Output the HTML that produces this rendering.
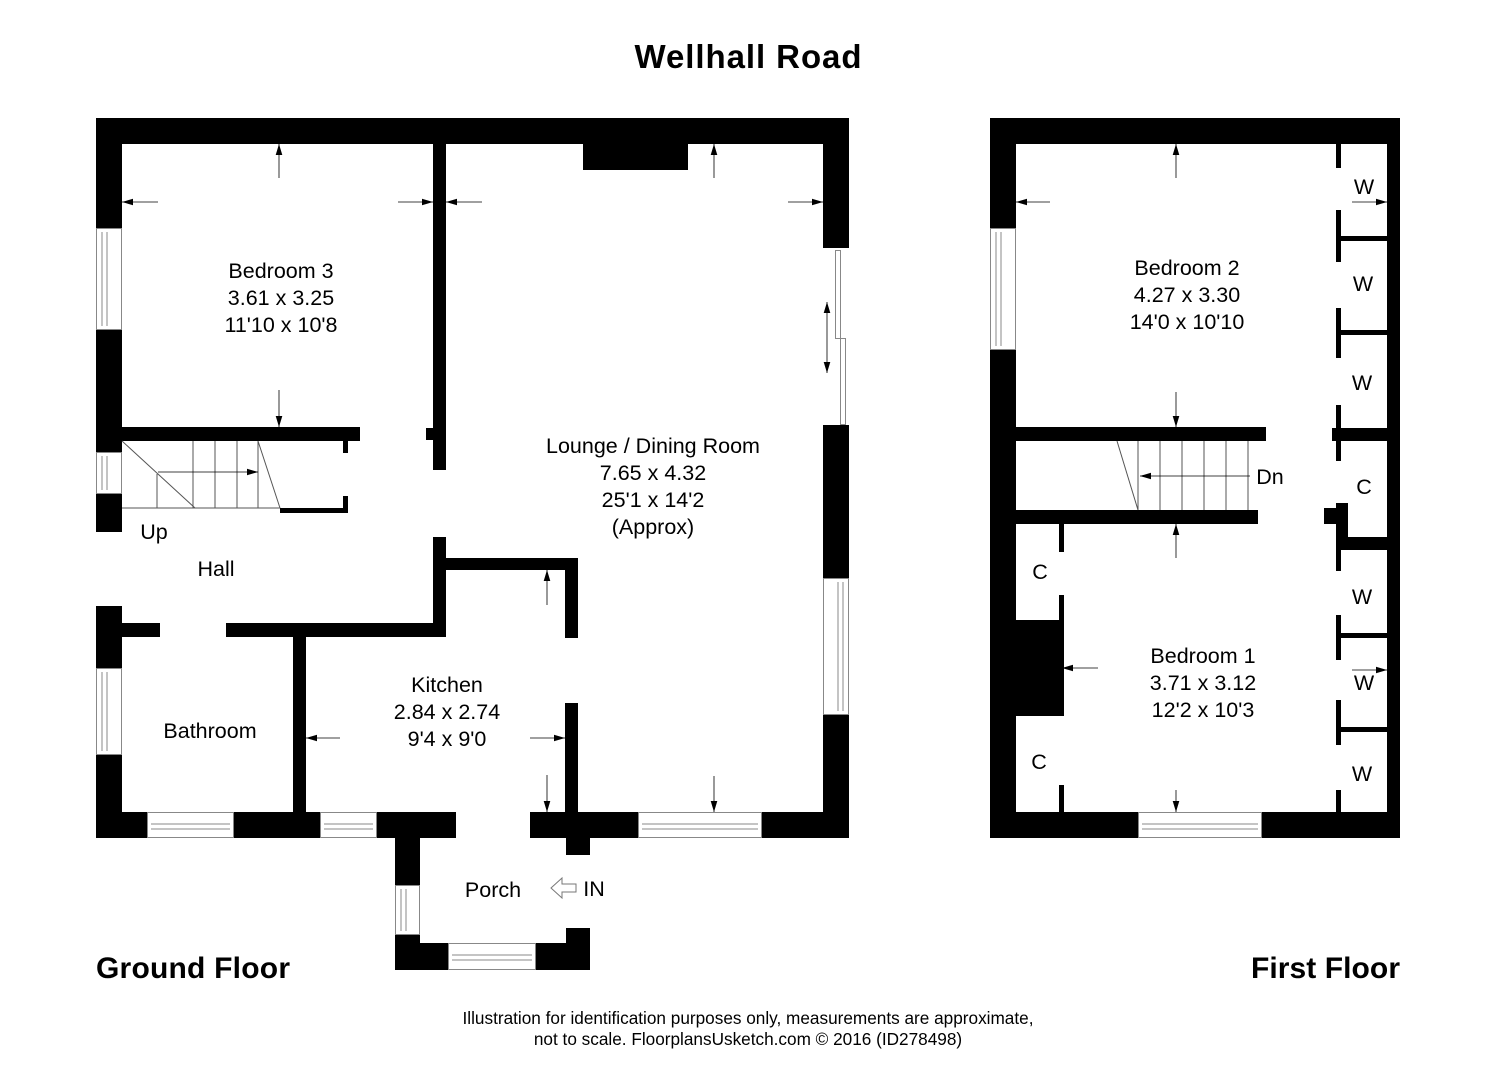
<!DOCTYPE html>
<html><head><meta charset="utf-8"><style>
html,body{margin:0;padding:0;background:#fff;}
svg{display:block;font-family:"Liberation Sans",Arial,sans-serif;}
</style></head><body>
<svg width="1496" height="1080" viewBox="0 0 1496 1080" xmlns="http://www.w3.org/2000/svg">
<defs>
<marker id="a" viewBox="0 0 10 10" refX="10" refY="5" markerWidth="11" markerHeight="11" orient="auto-start-reverse" markerUnits="userSpaceOnUse"><path d="M0,2 L10,5 L0,8 z" fill="#000"/></marker>
</defs>
<rect width="1496" height="1080" fill="#fff"/>
<text x="748" y="68" text-anchor="middle" font-size="33" font-weight="bold" textLength="227">Wellhall Road</text>

<g fill="#000">
<rect x="96" y="118" width="753" height="26"/>
<rect x="96" y="118" width="26" height="110"/>
<rect x="96" y="330" width="26" height="122"/>
<rect x="96" y="494" width="26" height="38"/>
<rect x="96" y="606" width="26" height="62"/>
<rect x="96" y="755" width="26" height="83"/>
<rect x="96" y="812" width="51" height="26"/>
<rect x="234" y="812" width="86" height="26"/>
<rect x="377" y="812" width="79" height="26"/>
<rect x="530" y="812" width="108" height="26"/>
<rect x="762" y="812" width="87" height="26"/>
<rect x="823" y="118" width="26" height="130"/>
<rect x="823" y="425" width="26" height="153"/>
<rect x="823" y="715" width="26" height="123"/>
<rect x="583" y="144" width="105" height="26"/>
<rect x="433" y="144" width="13" height="326"/>
<rect x="426" y="428" width="8" height="12"/>
<rect x="122" y="427" width="238" height="14"/>
<rect x="343" y="441" width="5" height="12"/>
<rect x="343" y="496" width="5" height="16"/>
<rect x="280" y="508" width="68" height="5"/>
<rect x="433" y="537" width="13" height="100"/>
<rect x="446" y="558" width="132" height="12"/>
<rect x="565" y="558" width="13" height="80"/>
<rect x="226" y="623" width="220" height="14"/>
<rect x="122" y="623" width="38" height="14"/>
<rect x="293" y="637" width="13" height="175"/>
<rect x="565" y="703" width="13" height="110"/>
<rect x="566" y="838" width="24" height="17"/>
<rect x="395" y="838" width="25" height="47"/>
<rect x="395" y="935" width="25" height="35"/>
<rect x="395" y="943" width="53" height="27"/>
<rect x="536" y="943" width="54" height="27"/>
<rect x="566" y="928" width="24" height="42"/>

<rect x="990" y="118" width="410" height="26"/>
<rect x="990" y="118" width="26" height="110"/>
<rect x="990" y="350" width="26" height="488"/>
<rect x="1387" y="118" width="13" height="720"/>
<rect x="990" y="812" width="148" height="26"/>
<rect x="1262" y="812" width="138" height="26"/>
<rect x="1016" y="620" width="46" height="96"/>
<rect x="1016" y="427" width="250" height="14"/>
<rect x="1016" y="510" width="242" height="14"/>
<rect x="1059" y="524" width="5" height="28"/>
<rect x="1059" y="595" width="5" height="121"/>
<rect x="1059" y="785" width="5" height="27"/>
<rect x="1336" y="144" width="5" height="24"/>
<rect x="1336" y="210" width="5" height="52"/>
<rect x="1336" y="236" width="51" height="5"/>
<rect x="1336" y="308" width="5" height="50"/>
<rect x="1336" y="330" width="51" height="5"/>
<rect x="1336" y="405" width="5" height="56"/>
<rect x="1332" y="428" width="55" height="13"/>
<rect x="1324" y="508" width="24" height="16"/>
<rect x="1336" y="503" width="12" height="47"/>
<rect x="1336" y="537" width="51" height="13"/>
<rect x="1336" y="550" width="5" height="21"/>
<rect x="1336" y="615" width="5" height="45"/>
<rect x="1336" y="633" width="51" height="5"/>
<rect x="1336" y="700" width="5" height="45"/>
<rect x="1336" y="727" width="51" height="5"/>
<rect x="1336" y="790" width="5" height="22"/>
</g>

<g fill="#fff" stroke="#888" stroke-width="1">
<rect x="96.5" y="228.5" width="25" height="101"/><line x1="102" y1="232" x2="102" y2="326"/><line x1="107" y1="232" x2="107" y2="326"/>
<rect x="96.5" y="452.5" width="25" height="41"/><line x1="102" y1="456" x2="102" y2="490"/><line x1="107" y1="456" x2="107" y2="490"/>
<rect x="96.5" y="668.5" width="25" height="86"/><line x1="102" y1="672" x2="102" y2="751"/><line x1="107" y1="672" x2="107" y2="751"/>
<rect x="147.5" y="812.5" width="86" height="25"/><line x1="151" y1="824" x2="230" y2="824"/><line x1="151" y1="829" x2="230" y2="829"/>
<rect x="320.5" y="812.5" width="56" height="25"/><line x1="324" y1="824" x2="373" y2="824"/><line x1="324" y1="829" x2="373" y2="829"/>
<rect x="638.5" y="812.5" width="123" height="25"/><line x1="642" y1="824" x2="758" y2="824"/><line x1="642" y1="829" x2="758" y2="829"/>
<rect x="823.5" y="578.5" width="25" height="136"/><line x1="838" y1="582" x2="838" y2="711"/><line x1="843" y1="582" x2="843" y2="711"/>
<rect x="395.5" y="885.5" width="24" height="49"/><line x1="401" y1="889" x2="401" y2="931"/><line x1="406" y1="889" x2="406" y2="931"/>
<rect x="448.5" y="943.5" width="87" height="26"/><line x1="452" y1="955" x2="532" y2="955"/><line x1="452" y1="960" x2="532" y2="960"/>
<rect x="990.5" y="228.5" width="25" height="121"/><line x1="996" y1="232" x2="996" y2="346"/><line x1="1001" y1="232" x2="1001" y2="346"/>
<rect x="1138.5" y="812.5" width="123" height="25"/><line x1="1142" y1="824" x2="1258" y2="824"/><line x1="1142" y1="829" x2="1258" y2="829"/>
<rect x="835.5" y="250.5" width="5" height="88"/>
<rect x="840.5" y="338.5" width="5" height="86"/>
</g>

<g stroke="#555" stroke-width="1" fill="none">
<line x1="122" y1="441" x2="195" y2="508"/>
<line x1="193" y1="441" x2="193" y2="508"/><line x1="215" y1="441" x2="215" y2="508"/><line x1="237" y1="441" x2="237" y2="508"/><line x1="258" y1="441" x2="258" y2="508"/>
<line x1="258" y1="441" x2="280" y2="508"/>
<line x1="122" y1="508" x2="280" y2="508"/>
<line x1="157" y1="474" x2="157" y2="508"/>
<line x1="1117" y1="441" x2="1138" y2="510"/>
<line x1="1138" y1="441" x2="1138" y2="510"/><line x1="1160" y1="441" x2="1160" y2="510"/><line x1="1182" y1="441" x2="1182" y2="510"/><line x1="1204" y1="441" x2="1204" y2="510"/><line x1="1226" y1="441" x2="1226" y2="510"/><line x1="1248" y1="441" x2="1248" y2="510"/>
</g>

<g stroke="#000" stroke-width="0.8" marker-end="url(#a)">
<line x1="158" y1="472" x2="258" y2="472"/>
<line x1="1250" y1="476" x2="1140" y2="476"/>
<line x1="279" y1="178" x2="279" y2="144"/>
<line x1="279" y1="390" x2="279" y2="427"/>
<line x1="158" y1="202" x2="122" y2="202"/>
<line x1="398" y1="202" x2="433" y2="202"/>
<line x1="714" y1="178" x2="714" y2="144"/>
<line x1="482" y1="202" x2="446" y2="202"/>
<line x1="788" y1="202" x2="823" y2="202"/>
<line x1="714" y1="776" x2="714" y2="812"/>
<line x1="547" y1="605" x2="547" y2="570"/>
<line x1="340" y1="738" x2="306" y2="738"/>
<line x1="530" y1="738" x2="565" y2="738"/>
<line x1="547" y1="775" x2="547" y2="812"/>
<line x1="1176" y1="178" x2="1176" y2="144"/>
<line x1="1050" y1="202" x2="1016" y2="202"/>
<line x1="1176" y1="392" x2="1176" y2="427"/>
<line x1="1352" y1="202" x2="1387" y2="202"/>
<line x1="1176" y1="558" x2="1176" y2="524"/>
<line x1="1098" y1="668" x2="1062" y2="668"/>
<line x1="1176" y1="790" x2="1176" y2="812"/>
<line x1="1352" y1="670" x2="1387" y2="670"/>
</g>
<line x1="827" y1="302" x2="827" y2="373" stroke="#000" stroke-width="0.8" marker-end="url(#a)" marker-start="url(#a)"/>

<path d="M551,888 L562,878 L562,884 L576,884 L576,892 L562,892 L562,898 Z" fill="#fff" stroke="#777" stroke-width="1"/>

<g font-size="21.5" text-anchor="middle" fill="#000">
<text x="281" y="278">Bedroom 3</text>
<text x="281" y="305">3.61 x 3.25</text>
<text x="281" y="332">11'10 x 10'8</text>
<text x="653" y="453">Lounge / Dining Room</text>
<text x="653" y="480">7.65 x 4.32</text>
<text x="653" y="507">25'1 x 14'2</text>
<text x="653" y="534">(Approx)</text>
<text x="154" y="539">Up</text>
<text x="216" y="576">Hall</text>
<text x="210" y="738">Bathroom</text>
<text x="447" y="692">Kitchen</text>
<text x="447" y="719">2.84 x 2.74</text>
<text x="447" y="746">9'4 x 9'0</text>
<text x="493" y="897">Porch</text>
<text x="594" y="896">IN</text>
<text x="1187" y="275">Bedroom 2</text>
<text x="1187" y="302">4.27 x 3.30</text>
<text x="1187" y="329">14'0 x 10'10</text>
<text x="1270" y="484">Dn</text>
<text x="1203" y="663">Bedroom 1</text>
<text x="1203" y="690">3.71 x 3.12</text>
<text x="1203" y="717">12'2 x 10'3</text>
<text x="1364" y="194">W</text>
<text x="1363" y="291">W</text>
<text x="1362" y="390">W</text>
<text x="1364" y="494">C</text>
<text x="1362" y="604">W</text>
<text x="1364" y="690">W</text>
<text x="1362" y="781">W</text>
<text x="1040" y="579">C</text>
<text x="1039" y="769">C</text>
</g>
<text x="96" y="978" font-size="30" font-weight="bold" textLength="194">Ground Floor</text>
<text x="1251" y="978" font-size="30" font-weight="bold" textLength="149">First Floor</text>
<g font-size="17.2" text-anchor="middle">
<text x="748" y="1024">Illustration for identification purposes only, measurements are approximate,</text>
<text x="748" y="1045">not to scale. FloorplansUsketch.com © 2016 (ID278498)</text>
</g>
</svg>
</body></html>
